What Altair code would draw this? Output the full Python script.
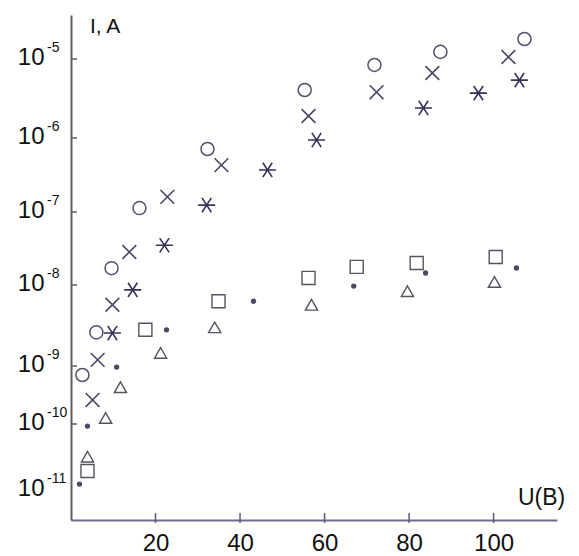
import altair as alt
import pandas as pd

# Current I (A) versus voltage U (V) for six sample series
u_circle = [2.7, 6.0, 9.6, 16.2, 32.3, 55.3, 71.8, 87.4, 107.3]
i_circle = [7.0e-10, 2.6e-9, 1.7e-8, 1.13e-7, 7.1e-7, 4.05e-6, 8.4e-6, 1.23e-5, 1.79e-5]

u_cross = [5.1, 6.3, 9.8, 13.8, 22.8, 35.6, 56.2, 72.3, 85.5, 103.5]
i_cross = [2.6e-10, 1.19e-9, 5.7e-9, 2.83e-8, 1.6e-7, 4.3e-7, 1.9e-6, 3.8e-6, 6.65e-6, 1.06e-5]

u_star = [9.8, 14.6, 22.1, 32.1, 46.5, 58.1, 83.4, 96.4, 106.1]
i_star = [2.55e-9, 8.7e-9, 3.5e-8, 1.24e-7, 3.7e-7, 9.4e-7, 2.4e-6, 3.7e-6, 5.4e-6]

u_square = [3.9, 17.6, 34.9, 56.2, 67.6, 81.8, 100.5]
i_square = [1.94e-11, 2.8e-9, 6.3e-9, 1.25e-8, 1.77e-8, 2.0e-8, 2.42e-8]

u_dot = [2.0, 3.9, 10.8, 22.6, 43.2, 66.9, 83.9, 105.4]
i_dot = [1.23e-11, 9.3e-11, 9.6e-10, 2.8e-9, 6.3e-9, 9.7e-9, 1.46e-8, 1.71e-8]

u_tri = [3.9, 8.2, 11.7, 21.2, 34.0, 56.9, 79.6, 100.2]
i_tri = [3.2e-11, 1.27e-10, 4.3e-10, 1.45e-9, 3.0e-9, 5.7e-9, 8.4e-9, 1.1e-8]

# Axis ticks
x_ticks = [20, 40, 60, 80, 100]
y_ticks = [1e-11, 1e-10, 1e-9, 1e-8, 1e-7, 1e-6, 1e-5]
y_exponents = ["-11", "-10", "-9", "-8", "-7", "-6", "-5"]

W, H = 486, 505
FONT = "Liberation Sans"

x_scale = alt.Scale(domain=[0, 115], nice=False, zero=False)
# hand-ruled decades are not evenly spaced, so the log scale is piecewise
y_scale = alt.Scale(
    type="log",
    domain=[3.5e-12, 1e-11, 1e-10, 1e-9, 1e-8, 1e-7, 1e-6, 1e-5, 3.6e-5],
    range=[505, 475, 409, 351, 270, 197, 123, 44, 0],
    nice=False,
)

x_axis = alt.Axis(
    values=x_ticks, title=None, grid=False, tickSize=0,
    labelFontSize=24, labelFont=FONT, labelColor="#111", labelPadding=11,
    domainColor="#74688c", domainWidth=2,
)
y_axis = alt.Axis(
    values=y_ticks, title=None, grid=False, tickSize=0,
    labelExpr="'10'", labelFontSize=24, labelFont=FONT, labelColor="#111",
    labelPadding=27, labelOffset=-2, domainColor="#5e5e66", domainWidth=2,
)


def series(u, i):
    return pd.DataFrame({"U": u, "I": i})


X = alt.X("U:Q", scale=x_scale, axis=x_axis)
Y = alt.Y("I:Q", scale=y_scale, axis=y_axis)

circles = alt.Chart(series(u_circle, i_circle)).mark_point(
    shape="circle", filled=False, size=170, strokeWidth=1.5, color="#55506c", opacity=1
).encode(x=X, y=Y)

crosses = alt.Chart(series(u_cross, i_cross)).mark_point(
    shape="M-1,-1L1,1M-1,1L1,-1", filled=False, size=190, strokeWidth=1.6,
    color="#4c4762", opacity=1
).encode(x=X, y=Y)

stars = alt.Chart(series(u_star, i_star)).mark_point(
    shape="M-1,0L1,0M-0.55,-0.84L0.55,0.84M-0.55,0.84L0.55,-0.84",
    filled=False, size=290, strokeWidth=1.6, color="#3b3158", opacity=1
).encode(x=X, y=Y)

squares = alt.Chart(series(u_square, i_square)).mark_point(
    shape="square", filled=False, size=170, strokeWidth=1.4, color="#55535e", opacity=1
).encode(x=X, y=Y)

dots = alt.Chart(series(u_dot, i_dot)).mark_point(
    shape="circle", filled=True, size=28, color="#4c4762", opacity=1
).encode(x=X, y=Y)

triangles = alt.Chart(series(u_tri, i_tri)).mark_point(
    shape="triangle-up", filled=False, size=150, strokeWidth=1.4, color="#55535e", opacity=1
).encode(x=X, y=Y)

# inward tick marks on both axes
y_tick_marks = alt.Chart(pd.DataFrame({"I": y_ticks[1:]})).mark_rule(
    color="#5e5e66", strokeWidth=1.5
).encode(y=alt.Y("I:Q", scale=y_scale, axis=y_axis), x=alt.value(0), x2=alt.value(6))

x_tick_marks = alt.Chart(pd.DataFrame({"U": x_ticks})).mark_rule(
    color="#5e5a70", strokeWidth=1.5
).encode(x=alt.X("U:Q", scale=x_scale, axis=x_axis), y=alt.value(H - 7), y2=alt.value(H + 3))

# superscript exponents beside the "10" labels
exponents = alt.Chart(pd.DataFrame({"I": y_ticks, "e": y_exponents})).mark_text(
    align="left", baseline="middle", fontSize=14, font=FONT, color="#111", dy=-11
).encode(y=alt.Y("I:Q", scale=y_scale, axis=y_axis), x=alt.value(-24), text="e:N")

y_title = alt.Chart(pd.DataFrame({"t": ["I, A"]})).mark_text(
    align="left", baseline="middle", fontSize=21, font=FONT, color="#111"
).encode(x=alt.value(19), y=alt.value(12), text="t:N")

x_title = alt.Chart(pd.DataFrame({"t": ["U(B)"]})).mark_text(
    align="left", baseline="middle", fontSize=23, font=FONT, color="#111"
).encode(x=alt.value(447), y=alt.value(483), text="t:N")

chart = alt.layer(
    y_tick_marks, x_tick_marks, circles, crosses, stars, squares, dots, triangles,
    exponents, y_title, x_title,
).properties(
    width=W, height=H,
    padding={"left": 71, "top": 15, "right": 22, "bottom": 36},
    autosize=alt.AutoSizeParams(type="none"),
    background="white",
).configure_view(stroke=None)

chart.save("out.html", embed_options={"renderer": "svg", "actions": False})
